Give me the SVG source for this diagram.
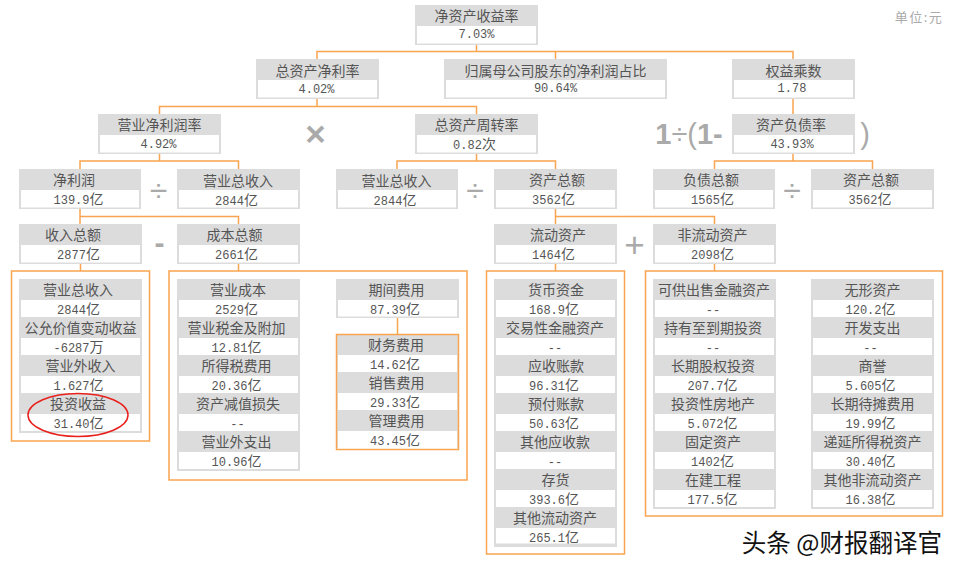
<svg xmlns="http://www.w3.org/2000/svg" width="959" height="573" viewBox="0 0 959 573">
<style>
text{font-family:"Noto Sans CJK SC","Liberation Sans",sans-serif;fill:#555;text-anchor:middle}
.g{fill:#dcdcdc}
.w{fill:#fff}
.h{font-size:14px}
.v{font-family:"Liberation Mono","Noto Sans CJK SC",monospace;font-size:12px}
.c{font-family:"Noto Sans CJK SC",sans-serif;font-size:14px}
.b{fill:none;stroke:#f9a44f;stroke-width:1.5}
.l{fill:none;stroke:#f9a44f;stroke-width:1.5}
.op{font-family:"Liberation Sans",sans-serif;font-size:32px;fill:#aaa}
.bd{font-weight:bold}
</style>
<rect width="959" height="573" fill="#fff"/>
<g id="connectors" class="l">
<path d="M476.500 45V51.500M317 59V51.500H793V59M555.500 51.500V59"/>
<path d="M317 99V106.500M159.500 114V106.500H476.500V114"/>
<path d="M159.500 154V161M80 169V161H238.500V169"/>
<path d="M80 208V216.500M80 224V216.500H238.500V224"/>
<path d="M80.500 263V271M238.500 263V271"/>
<path d="M476.500 154V161M397 169V161H555.500V169"/>
<path d="M555.500 208V216.500M555.500 224V216.500H714.500V224"/>
<path d="M555.500 263V271M714.500 263V271"/>
<path d="M793 99V114"/>
<path d="M793 154V161M714.500 169V161H872.500V169"/>
<path d="M397.500 318V334"/>
</g>
<g id="frames" class="b">
<rect x="11.500" y="271" width="138" height="170"/>
<rect x="169" y="271" width="298" height="209"/>
<rect x="486.500" y="271" width="138" height="283"/>
<rect x="645.500" y="271" width="297" height="245"/>
</g>
<g id="n-roe"><rect class="g" x="415" y="5" width="123" height="40"/><rect class="w" x="417" y="26" width="119" height="17.500"/><text class="h" x="476.500" y="21">净资产收益率</text><text class="v" x="476.500" y="38">7.03%</text></g>
<g id="n-roa"><rect class="g" x="256" y="59" width="123" height="40"/><rect class="w" x="258" y="80" width="119" height="17.500"/><text class="h" x="317.500" y="76">总资产净利率</text><text class="v" x="316.500" y="93">4.02%</text></g>
<g id="n-share"><rect class="g" x="444" y="59" width="223" height="40"/><rect class="w" x="446" y="80" width="219" height="17.500"/><text class="h" x="555.500" y="76">归属母公司股东的净利润占比</text><text class="v" x="555.500" y="92">90.64%</text></g>
<g id="n-em"><rect class="g" x="732" y="59" width="123" height="40"/><rect class="w" x="734" y="80" width="119" height="17.500"/><text class="h" x="793.500" y="76">权益乘数</text><text class="v" x="792" y="92">1.78</text></g>
<g id="n-npm"><rect class="g" x="98" y="114" width="123" height="40"/><rect class="w" x="100" y="135" width="119" height="17.500"/><text class="h" x="159.500" y="130">营业净利润率</text><text class="v" x="158.500" y="148">4.92%</text></g>
<g id="n-turn"><rect class="g" x="415" y="114" width="123" height="40"/><rect class="w" x="417" y="135" width="119" height="17.500"/><text class="h" x="476.500" y="130">总资产周转率</text><text class="v" x="474.500" y="149">0.82<tspan class="c">次</tspan></text></g>
<g id="n-debt"><rect class="g" x="732" y="114" width="123" height="40"/><rect class="w" x="734" y="135" width="119" height="17.500"/><text class="h" x="791" y="130">资产负债率</text><text class="v" x="792" y="148">43.93%</text></g>
<g id="n-np"><rect class="g" x="19" y="169" width="122" height="40"/><rect class="w" x="21" y="190" width="118" height="17.500"/><text class="h" x="74" y="185">净利润</text><text class="v" x="78.500" y="204">139.9<tspan class="c">亿</tspan></text></g>
<g id="n-rev1"><rect class="g" x="177" y="169" width="123" height="40"/><rect class="w" x="179" y="190" width="119" height="17.500"/><text class="h" x="238" y="185.500">营业总收入</text><text class="v" x="236.500" y="204.500">2844<tspan class="c">亿</tspan></text></g>
<g id="n-rev2"><rect class="g" x="336" y="169" width="122" height="40"/><rect class="w" x="338" y="190" width="118" height="17.500"/><text class="h" x="396.500" y="185.500">营业总收入</text><text class="v" x="395" y="204.500">2844<tspan class="c">亿</tspan></text></g>
<g id="n-ta1"><rect class="g" x="494" y="169" width="123" height="40"/><rect class="w" x="496" y="190" width="119" height="17.500"/><text class="h" x="557" y="185">资产总额</text><text class="v" x="553.500" y="204">3562<tspan class="c">亿</tspan></text></g>
<g id="n-liab"><rect class="g" x="653" y="169" width="122" height="40"/><rect class="w" x="655" y="190" width="118" height="17.500"/><text class="h" x="711" y="185">负债总额</text><text class="v" x="712.500" y="204">1565<tspan class="c">亿</tspan></text></g>
<g id="n-ta2"><rect class="g" x="811" y="169" width="123" height="40"/><rect class="w" x="813" y="190" width="119" height="17.500"/><text class="h" x="871" y="185">资产总额</text><text class="v" x="870" y="204">3562<tspan class="c">亿</tspan></text></g>
<g id="n-inc"><rect class="g" x="19" y="224" width="123" height="40"/><rect class="w" x="21" y="245" width="119" height="17.500"/><text class="h" x="73" y="240">收入总额</text><text class="v" x="78.500" y="259">2877<tspan class="c">亿</tspan></text></g>
<g id="n-cost"><rect class="g" x="177" y="224" width="123" height="40"/><rect class="w" x="179" y="245" width="119" height="17.500"/><text class="h" x="234.500" y="240">成本总额</text><text class="v" x="236.500" y="259">2661<tspan class="c">亿</tspan></text></g>
<g id="n-cur"><rect class="g" x="494" y="224" width="123" height="40"/><rect class="w" x="496" y="245" width="119" height="17.500"/><text class="h" x="558" y="240">流动资产</text><text class="v" x="553.500" y="259">1464<tspan class="c">亿</tspan></text></g>
<g id="n-ncur"><rect class="g" x="653" y="224" width="123" height="40"/><rect class="w" x="655" y="245" width="119" height="17.500"/><text class="h" x="712.500" y="240">非流动资产</text><text class="v" x="712.500" y="259">2098<tspan class="c">亿</tspan></text></g>
<g id="t1-1"><rect class="g" x="19" y="279" width="123" height="38"/><rect class="w" x="21" y="300" width="119" height="17"/><text class="h" x="78" y="295">营业总收入</text><text class="v" x="78.500" y="314">2844<tspan class="c">亿</tspan></text></g>
<g id="t1-2"><rect class="g" x="19" y="317" width="123" height="38"/><rect class="w" x="21" y="338" width="119" height="17"/><text class="h" x="80.500" y="333">公允价值变动收益</text><text class="v" x="78.500" y="352">-6287<tspan class="c">万</tspan></text></g>
<g id="t1-3"><rect class="g" x="19" y="355" width="123" height="38"/><rect class="w" x="21" y="376" width="119" height="17"/><text class="h" x="80.500" y="371">营业外收入</text><text class="v" x="78.500" y="390">1.627<tspan class="c">亿</tspan></text></g>
<g id="t1-4"><rect class="g" x="19" y="393" width="123" height="40"/><rect class="w" x="21" y="414" width="119" height="17"/><text class="h" x="78" y="409">投资收益</text><text class="v" x="78.500" y="428">31.40<tspan class="c">亿</tspan></text></g>
<g id="t2-1"><rect class="g" x="177" y="279" width="123" height="38"/><rect class="w" x="179" y="300" width="119" height="17"/><text class="h" x="238" y="295">营业成本</text><text class="v" x="236.500" y="314">2529<tspan class="c">亿</tspan></text></g>
<g id="t2-2"><rect class="g" x="177" y="317" width="123" height="38"/><rect class="w" x="179" y="338" width="119" height="17"/><text class="h" x="236.500" y="333">营业税金及附加</text><text class="v" x="236.500" y="352">12.81<tspan class="c">亿</tspan></text></g>
<g id="t2-3"><rect class="g" x="177" y="355" width="123" height="38"/><rect class="w" x="179" y="376" width="119" height="17"/><text class="h" x="236.500" y="371">所得税费用</text><text class="v" x="236.500" y="390">20.36<tspan class="c">亿</tspan></text></g>
<g id="t2-4"><rect class="g" x="177" y="393" width="123" height="38"/><rect class="w" x="179" y="414" width="119" height="17"/><text class="h" x="238" y="409">资产减值损失</text><text class="v" x="237.500" y="428">--</text></g>
<g id="t2-5"><rect class="g" x="177" y="431" width="123" height="40"/><rect class="w" x="179" y="452" width="119" height="17"/><text class="h" x="236.500" y="447">营业外支出</text><text class="v" x="236.500" y="466">10.96<tspan class="c">亿</tspan></text></g>
<g id="n-period"><rect class="g" x="336" y="279" width="123" height="39"/><rect class="w" x="338" y="300" width="119" height="16.500"/><text class="h" x="396.500" y="295">期间费用</text><text class="v" x="395" y="314">87.39<tspan class="c">亿</tspan></text></g>
<g id="t3-1"><rect class="g" x="337" y="335" width="121" height="37"/><rect class="w" x="338" y="355" width="119" height="17"/><text class="h" x="396" y="349.500">财务费用</text><text class="v" x="395" y="368.500">14.62<tspan class="c">亿</tspan></text></g>
<g id="t3-2"><rect class="g" x="337" y="372" width="121" height="38"/><rect class="w" x="338" y="393" width="119" height="17"/><text class="h" x="396.500" y="387.500">销售费用</text><text class="v" x="395" y="406.500">29.33<tspan class="c">亿</tspan></text></g>
<g id="t3-3"><rect class="g" x="337" y="410" width="121" height="38"/><rect class="w" x="338" y="431" width="119" height="17"/><text class="h" x="396.500" y="425.500">管理费用</text><text class="v" x="395" y="444.500">43.45<tspan class="c">亿</tspan></text></g>
<rect id="frame-period" class="b" x="336.500" y="334.500" width="122" height="115"/>
<g id="t4-1"><rect class="g" x="494" y="279" width="123" height="38"/><rect class="w" x="496" y="300" width="119" height="17"/><text class="h" x="556" y="295">货币资金</text><text class="v" x="554" y="314">168.9<tspan class="c">亿</tspan></text></g>
<g id="t4-2"><rect class="g" x="494" y="317" width="123" height="38"/><rect class="w" x="496" y="338" width="119" height="17"/><text class="h" x="555" y="333">交易性金融资产</text><text class="v" x="555" y="352">--</text></g>
<g id="t4-3"><rect class="g" x="494" y="355" width="123" height="38"/><rect class="w" x="496" y="376" width="119" height="17"/><text class="h" x="556" y="371">应收账款</text><text class="v" x="554" y="390">96.31<tspan class="c">亿</tspan></text></g>
<g id="t4-4"><rect class="g" x="494" y="393" width="123" height="38"/><rect class="w" x="496" y="414" width="119" height="17"/><text class="h" x="556" y="409">预付账款</text><text class="v" x="554" y="428">50.63<tspan class="c">亿</tspan></text></g>
<g id="t4-5"><rect class="g" x="494" y="431" width="123" height="38"/><rect class="w" x="496" y="452" width="119" height="17"/><text class="h" x="555" y="447">其他应收款</text><text class="v" x="555" y="466">--</text></g>
<g id="t4-6"><rect class="g" x="494" y="469" width="123" height="38"/><rect class="w" x="496" y="490" width="119" height="17"/><text class="h" x="555.500" y="485">存货</text><text class="v" x="554" y="504">393.6<tspan class="c">亿</tspan></text></g>
<g id="t4-7"><rect class="g" x="494" y="507" width="123" height="40"/><rect class="w" x="496" y="528" width="119" height="15.500"/><text class="h" x="555" y="522.500">其他流动资产</text><text class="v" x="554" y="541.500">265.1<tspan class="c">亿</tspan></text></g>
<g id="t5-1"><rect class="g" x="653" y="279" width="123" height="38"/><rect class="w" x="655" y="300" width="119" height="17"/><text class="h" x="714" y="295">可供出售金融资产</text><text class="v" x="713" y="314">--</text></g>
<g id="t5-2"><rect class="g" x="653" y="317" width="123" height="38"/><rect class="w" x="655" y="338" width="119" height="17"/><text class="h" x="713" y="333">持有至到期投资</text><text class="v" x="713" y="352">--</text></g>
<g id="t5-3"><rect class="g" x="653" y="355" width="123" height="38"/><rect class="w" x="655" y="376" width="119" height="17"/><text class="h" x="713" y="371">长期股权投资</text><text class="v" x="712.500" y="390">207.7<tspan class="c">亿</tspan></text></g>
<g id="t5-4"><rect class="g" x="653" y="393" width="123" height="38"/><rect class="w" x="655" y="414" width="119" height="17"/><text class="h" x="713" y="409">投资性房地产</text><text class="v" x="712.500" y="428">5.072<tspan class="c">亿</tspan></text></g>
<g id="t5-5"><rect class="g" x="653" y="431" width="123" height="38"/><rect class="w" x="655" y="452" width="119" height="17"/><text class="h" x="713" y="447">固定资产</text><text class="v" x="712.500" y="466">1402<tspan class="c">亿</tspan></text></g>
<g id="t5-6"><rect class="g" x="653" y="469" width="123" height="40"/><rect class="w" x="655" y="490" width="119" height="17"/><text class="h" x="713" y="485">在建工程</text><text class="v" x="712.500" y="504">177.5<tspan class="c">亿</tspan></text></g>
<g id="t6-1"><rect class="g" x="811" y="279" width="123" height="38"/><rect class="w" x="813" y="300" width="119" height="17"/><text class="h" x="872.500" y="295">无形资产</text><text class="v" x="870.500" y="314">120.2<tspan class="c">亿</tspan></text></g>
<g id="t6-2"><rect class="g" x="811" y="317" width="123" height="38"/><rect class="w" x="813" y="338" width="119" height="17"/><text class="h" x="872.500" y="333">开发支出</text><text class="v" x="870.500" y="352">--</text></g>
<g id="t6-3"><rect class="g" x="811" y="355" width="123" height="38"/><rect class="w" x="813" y="376" width="119" height="17"/><text class="h" x="872.500" y="371">商誉</text><text class="v" x="870.500" y="390">5.605<tspan class="c">亿</tspan></text></g>
<g id="t6-4"><rect class="g" x="811" y="393" width="123" height="38"/><rect class="w" x="813" y="414" width="119" height="17"/><text class="h" x="872.500" y="409">长期待摊费用</text><text class="v" x="870.500" y="428">19.99<tspan class="c">亿</tspan></text></g>
<g id="t6-5"><rect class="g" x="811" y="431" width="123" height="38"/><rect class="w" x="813" y="452" width="119" height="17"/><text class="h" x="872.500" y="447">递延所得税资产</text><text class="v" x="870.500" y="466">30.40<tspan class="c">亿</tspan></text></g>
<g id="t6-6"><rect class="g" x="811" y="469" width="123" height="40"/><rect class="w" x="813" y="490" width="119" height="17"/><text class="h" x="872.500" y="485">其他非流动资产</text><text class="v" x="870.500" y="504">16.38<tspan class="c">亿</tspan></text></g>
<ellipse id="highlight" cx="78" cy="415" rx="50" ry="21.500" fill="none" stroke="#e8211d" stroke-width="1.500"/>
<g id="operators">
<text class="op bd" x="315.500" y="145.500" style="font-size:35px">×</text>
<text class="op" x="158.500" y="200.500">÷</text>
<text class="op bd" x="159.500" y="253" style="font-size:30px">-</text>
<text class="op" x="475" y="200.500">÷</text>
<text class="op" x="634.500" y="257" style="font-size:35px">+</text>
<text class="op" x="792" y="200.500">÷</text>
<text class="op" x="689" y="143.500" style="font-size:29px"><tspan class="bd">1</tspan>÷(<tspan class="bd">1-</tspan></text>
<text class="op" x="865" y="143.500" style="font-size:29px">)</text>
</g>
<text id="unit" x="919" y="22" style="font-size:13px;fill:#aaa;letter-spacing:1.500px">单位:元</text>
<text id="watermark" x="942" y="552" style="font-size:24.500px;fill:#111;text-anchor:end;stroke:#fff;stroke-width:2.500px;paint-order:stroke">头条 @财报翻译官</text>
</svg>
